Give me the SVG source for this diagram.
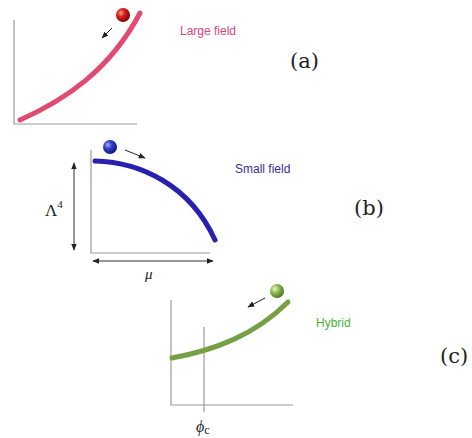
<svg xmlns="http://www.w3.org/2000/svg" width="472" height="438" viewBox="0 0 472 438">
<style>
.ax{stroke:#9a9a9a;stroke-width:1.2;fill:none}
.dim{stroke:#333;stroke-width:1;fill:none}
.crv{fill:none;stroke-width:5;stroke-linecap:round}
.lbl{font-family:"Liberation Sans",Arial,sans-serif;font-size:12px}
.tag{font-family:"DejaVu Serif","Liberation Serif",serif;font-size:21px;fill:#222}
.math{font-family:"Liberation Serif","Times New Roman",serif;fill:#222}
.arr{stroke:#222;stroke-width:1;fill:none}
</style>
<defs>
<marker id="ah" viewBox="0 0 10 10" refX="9" refY="5" markerWidth="7" markerHeight="7" orient="auto-start-reverse"><path d="M0,1 L10,5 L0,9 z" fill="#222"/></marker>
<radialGradient id="gr" cx="0.35" cy="0.35" r="0.7"><stop offset="0" stop-color="#ff9a8a"/><stop offset="0.4" stop-color="#d42020"/><stop offset="1" stop-color="#7a0000"/></radialGradient>
<radialGradient id="gb" cx="0.35" cy="0.35" r="0.7"><stop offset="0" stop-color="#aab0ff"/><stop offset="0.4" stop-color="#3040c8"/><stop offset="1" stop-color="#101870"/></radialGradient>
<radialGradient id="gg" cx="0.35" cy="0.35" r="0.7"><stop offset="0" stop-color="#e8f5c0"/><stop offset="0.45" stop-color="#8cb850"/><stop offset="1" stop-color="#4a6e20"/></radialGradient>
</defs>
<rect width="472" height="438" fill="#fff"/>
<g id="panel-a">
<path class="ax" d="M14,20 V124 H137"/>
<path class="crv" stroke="#e24a72" d="M20,120 C65,100 110,70 140,13"/>
<circle cx="123" cy="15" r="7" fill="url(#gr)"/>
<line class="arr" x1="112" y1="28" x2="102" y2="38" marker-end="url(#ah)"/>
<text class="lbl" x="180" y="35" fill="#d9457a">Large field</text>
<text class="tag" x="290" y="68">(a)</text>
</g>
<g id="panel-b">
<path class="ax" d="M91,150 V253 H210"/>
<path class="crv" stroke="#2a20b0" d="M95,161 C140,162 190,185 215,240"/>
<circle cx="110" cy="147" r="7" fill="url(#gb)"/>
<line class="arr" x1="125" y1="150" x2="145" y2="158" marker-end="url(#ah)"/>
<line class="dim" x1="74" y1="163" x2="74" y2="250" marker-start="url(#ah)" marker-end="url(#ah)"/>
<line class="dim" x1="93" y1="261" x2="213" y2="261" marker-start="url(#ah)" marker-end="url(#ah)"/>
<text class="math" x="45" y="216" font-size="17">Λ<tspan font-size="11" dy="-8">4</tspan></text>
<text class="math" x="145" y="279" font-size="15" font-style="italic">μ</text>
<text class="lbl" x="235" y="173" fill="#3a2c98">Small field</text>
<text class="tag" x="354" y="215">(b)</text>
</g>
<g id="panel-c">
<path class="ax" d="M171,300 V405 H293"/>
<line class="ax" x1="204" y1="327" x2="204" y2="412"/>
<path class="crv" stroke="#76a046" d="M172,358 C215,350 255,335 288,302"/>
<circle cx="277" cy="291" r="7" fill="url(#gg)"/>
<line class="arr" x1="265" y1="298" x2="248" y2="307" marker-end="url(#ah)"/>
<text class="math" x="196" y="432" font-size="16" font-style="italic">ϕ<tspan font-style="normal" font-size="12" dy="2">c</tspan></text>
<text class="lbl" x="316" y="327" fill="#4caf3c">Hybrid</text>
<text class="tag" x="440" y="363">(c)</text>
</g>
</svg>
